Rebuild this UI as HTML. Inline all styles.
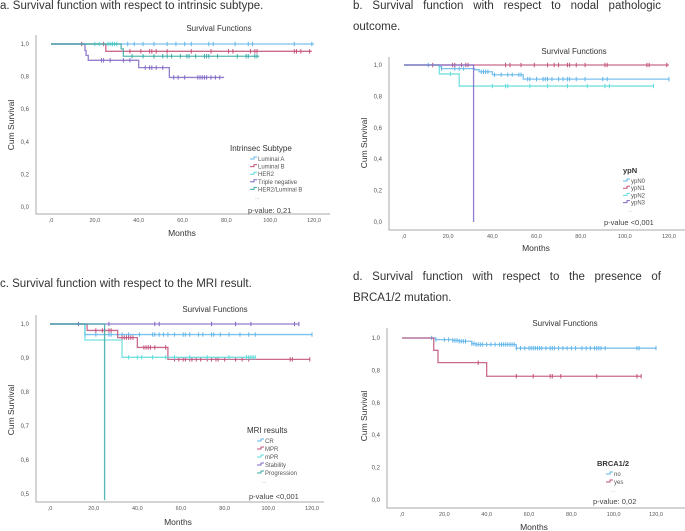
<!DOCTYPE html>
<html><head><meta charset="utf-8">
<style>
body{margin:0;width:685px;height:531px;background:#fff;overflow:hidden;position:relative;font-family:"Liberation Sans",sans-serif;}
.cap{position:absolute;font-size:11.5px;color:#333;line-height:21px;}
.just{text-align:justify;text-align-last:left;}
svg{position:absolute;left:0;top:0;}
text{font-family:"Liberation Sans",sans-serif;}
</style></head><body>
<div class="cap" style="left:0;top:-4px;">a. Survival function with respect to intrinsic subtype.</div>
<div class="cap just" style="left:353px;top:-4px;width:308px;">b. Survival function with respect to nodal pathologic outcome.</div>
<div class="cap" style="left:0;top:274px;">c. Survival function with respect to the MRI result.</div>
<div class="cap just" style="left:353px;top:267px;width:308px;">d. Survival function with respect to the presence of BRCA1/2 mutation.</div>
<svg id="svg" width="685" height="531"></svg>
<script>
// ---- Panel a data ----
const aLumATimes=[0]; const aLumASurv=[1]; const aLumAEnd=120;
const aLumACens=[28,35,38,42,47,53,57,61,64,72,74,84,90,92,111,119];
const aLumBTimes=[0,25]; const aLumBSurv=[1,0.955]; const aLumBEnd=119;
const aLumBCens=[14,24,36,41,45,46,48,53,64,73,81,83,91,93,94,111,112,114,118];
const aHer2Times=[0]; const aHer2Surv=[1]; const aHer2End=30;
const aHer2Cens=[20,22,26,27,28,29,30];
const aTnTimes=[0,15.5,16,17,40,54]; const aTnSurv=[1,0.96,0.93,0.90,0.855,0.795]; const aTnEnd=79;
const aTnCens=[23,24,27,33,36,43,45,46,48,51,56,58,61,67,68,69,70,71,73,75,77];
const aHlTimes=[0,32,33]; const aHlSurv=[1,0.97,0.925]; const aHlEnd=95;
const aHlCens=[37,42,47,51,53,55,59,62,63,66,70,71,72,76,85,89,90,93,94];
// ---- Panel b data ----
const bN0Times=[0,16,17,32,34,40,54]; const bN0Surv=[1,0.99,0.977,0.97,0.957,0.938,0.91]; const bN0End=120;
const bN0Cens=[11,17,23,25,27,35,36,37,38,41,44,47,49,52,53,56,57,60,63,64,65,67,70,72,74,75,78,82,90,92,120];
const bN1Times=[0]; const bN1Surv=[1]; const bN1End=120;
const bN1Cens=[13,22,23,26,28,29,46,48,53,59,65,68,70,74,75,78,82,91,92,110,111,119];
const bN2Times=[0,16,25]; const bN2Surv=[1,0.943,0.866]; const bN2End=113;
const bN2Cens=[21,40,46,47,57,65,74,83,91,93,113];
const bN3Times=[0,31.5]; const bN3Surv=[1,0]; const bN3End=31.5;
const bN3Cens=[];
// ---- Panel c data ----
const cCrTimes=[0,16]; const cCrSurv=[1,0.969]; const cCrEnd=120;
const cCrCens=[16,21,27,28,33,36,41,47,48,50,52,54,57,61,62,64,68,70,74,75,78,82,87,91,94,120];
const cMprTimes=[0,17,31,40,54]; const cMprSurv=[1,0.981,0.96,0.931,0.896]; const cMprEnd=119;
const cMprCens=[21,24,25,27,28,33,34,35,36,37,38,43,44,45,46,48,53,57,59,61,62,64,65,67,69,72,74,76,77,80,85,88,91,110,111,119];
const cMinTimes=[0,16,33]; const cMinSurv=[1,0.953,0.902]; const cMinEnd=94;
const cMinCens=[36,40,42,47,53,57,64,72,82,90,91,92,93,94];
const cStabTimes=[0]; const cStabSurv=[1]; const cStabEnd=114;
const cStabCens=[13,27,48,50,74,85,92,112,114];
const cProgTimes=[0,25]; const cProgSurv=[1,0.482]; const cProgEnd=25;
const cProgCens=[];
// ---- Panel d data ----
const dNoTimes=[0,16,24,27,33,35,54]; const dNoSurv=[1,0.99,0.985,0.98,0.965,0.96,0.937]; const dNoEnd=120;
const dNoCens=[14,16,20,22,24,25,26,27,28,29,30,33,34,35,36,37,38,40,42,44,46,47,48,49,50,51,52,53,54,56,58,60,61,62,63,64,65,66,68,70,71,72,74,76,78,80,82,85,87,89,91,92,93,94,96,111,112,120];
const dYesTimes=[0,15,17,40]; const dYesSurv=[1,0.924,0.848,0.764]; const dYesEnd=113;
const dYesCens=[36,54,62,70,71,75,92,111,113];
// ---- tick labels ----
const xTicks=[0,20,40,60,80,100,120];
const xTickLabels=[",0","20,0","40,0","60,0","80,0","100,0","120,0"];
const yTicksFull=[0,0.2,0.4,0.6,0.8,1.0];
const yTickLabelsFull=["0,0","0,2","0,4","0,6","0,8","1,0"];
const yTicksC=[0.5,0.6,0.7,0.8,0.9,1.0];
const yTickLabelsC=["0,5","0,6","0,7","0,8","0,9","1,0"];

const C={lb:"#63b6ea",cr:"#c2507a",cy:"#5fdcdc",pu:"#8068c4",te:"#3aaaa6"};
const NS="http://www.w3.org/2000/svg";
const svg=document.getElementById('svg');
function mk(tag,attrs,parent){const e=document.createElementNS(NS,tag);for(const k in attrs)e.setAttribute(k,attrs[k]);(parent||svg).appendChild(e);return e;}
function survAt(times,surv,t){let s=surv[0];for(let i=0;i<times.length;i++){if(times[i]<=t)s=surv[i];}return s;}

function panel(P){
  const g=mk('g',{});
  
  
  const xs=v=>P.x0+(v-0)*(P.x120-P.x0)/120;
  const ys=v=>P.y1+(1-v)*(P.ylo-P.y1)/(1-P.ymin);
  const t=mk('text',{x:P.titleX,y:P.titleY,'font-size':8,fill:'#333','text-anchor':'middle'},g);t.textContent='Survival Functions';
  
  
  const ax=mk('path',{d:`M${P.ax} ${P.axTop}V${P.axB}H${P.axR}`,stroke:'#aaa','stroke-width':1,fill:'none'},g);
  
  
  P.yt.forEach((v,i)=>{const e=mk('text',{x:P.ax-7,y:ys(v)+2,'font-size':6,fill:'#555','text-anchor':'end'},g);e.textContent=P.ytl[i];
    
    });
  xTicks.forEach((v,i)=>{const e=mk('text',{x:xs(v),y:P.axB+8,'font-size':5.5,fill:'#555','text-anchor':'middle'},g);e.textContent=xTickLabels[i];
    
    });
  const xl=mk('text',{x:P.monX,y:P.monY,'font-size':8.5,fill:'#333','text-anchor':'middle'},g);xl.textContent='Months';
  
  
  const yl=mk('text',{x:0,y:0,'font-size':8.5,fill:'#333','text-anchor':'middle',transform:`translate(${P.cumX},${P.cumY}) rotate(-90)`},g);yl.textContent='Cum Survival';
  
  
  P.series.forEach(s=>{
    let d=`M${xs(0)} ${ys(s.surv[0])}`;
    for(let i=1;i<s.times.length;i++){d+=`H${xs(s.times[i])}V${ys(s.surv[i])}`;}
    d+=`H${xs(s.end)}`;
    const p=mk('path',{d:d,stroke:s.col,'stroke-width':1.3,fill:'none','stroke-opacity':0.85},g);
    
    
    s.cens.forEach(c=>{const y=ys(survAt(s.times,s.surv,c));
      const m=mk('line',{x1:xs(c),x2:xs(c),y1:y-2.2,y2:y+2.2,stroke:s.col,'stroke-width':1},g);
      
      });
  });
  const lt=mk('text',{x:P.legX,y:P.legY,'font-size':P.legFs,fill:'#333','font-weight':P.legBold?'bold':'normal'},g);lt.textContent=P.legTitle;
  
  
  P.series.forEach((s,i)=>{const y=P.legY0+i*P.legDy;const lx=P.legX+P.legIx;
    const ic=mk('path',{d:`M${lx} ${y}H${lx+4}V${y-2}H${lx+7}`,stroke:s.col,'stroke-width':1,fill:'none'},g);
    
    
    const e=mk('text',{x:lx+8,y:y+2,'font-size':6,fill:'#555'},g);e.textContent=s.label;
    
    });
  const dots=mk('text',{x:P.legX+P.legIx+5,y:P.legY0+P.series.length*P.legDy+2,'font-size':5,fill:'#999'},g);dots.textContent='...';
  
  
  const pv=mk('text',{x:P.pX,y:P.pY,'font-size':7.5,fill:'#444'},g);pv.textContent=P.pText;
  
  
}

panel({id:'a',x0:51,x120:314,y1:44,ylo:207,ymin:0,ax:36,axTop:35,axB:214,axR:330,titleX:219,titleY:31,monX:182,monY:236,cumX:14,cumY:125,
  yt:yTicksFull,ytl:yTickLabelsFull,legTitle:'Intrinsec Subtype',legX:230,legY:151,legFs:8,legBold:false,legIx:20,legY0:159,legDy:7.6,
  pX:248,pY:213,pText:'p-value: 0,21',
  series:[{name:'luminal-a',label:'Luminal A',col:C.lb,times:aLumATimes,surv:aLumASurv,end:aLumAEnd,cens:aLumACens},
          {name:'luminal-b',label:'Luminal B',col:C.cr,times:aLumBTimes,surv:aLumBSurv,end:aLumBEnd,cens:aLumBCens},
          {name:'her2',label:'HER2',col:C.cy,times:aHer2Times,surv:aHer2Surv,end:aHer2End,cens:aHer2Cens},
          {name:'triple-negative',label:'Triple negative',col:C.pu,times:aTnTimes,surv:aTnSurv,end:aTnEnd,cens:aTnCens},
          {name:'her2-luminal-b',label:'HER2/Luminal B',col:C.te,times:aHlTimes,surv:aHlSurv,end:aHlEnd,cens:aHlCens}]});
panel({id:'b',x0:404,x120:669,y1:65,ylo:222,ymin:0,ax:389,axTop:57,axB:230,axR:685,titleX:574,titleY:54,monX:536,monY:251,cumX:367,cumY:143,
  yt:yTicksFull,ytl:yTickLabelsFull,legTitle:'ypN',legX:623,legY:173,legFs:7.5,legBold:true,legIx:0,legY0:181,legDy:7.2,
  pX:604,pY:225,pText:'p-value <0,001',
  series:[{name:'ypn0',label:'ypN0',col:C.lb,times:bN0Times,surv:bN0Surv,end:bN0End,cens:bN0Cens},
          {name:'ypn1',label:'ypN1',col:C.cr,times:bN1Times,surv:bN1Surv,end:bN1End,cens:bN1Cens},
          {name:'ypn2',label:'ypN2',col:C.cy,times:bN2Times,surv:bN2Surv,end:bN2End,cens:bN2Cens},
          {name:'ypn3',label:'ypN3',col:C.pu,times:bN3Times,surv:bN3Surv,end:bN3End,cens:bN3Cens}]});
panel({id:'c',x0:50,x120:312,y1:324,ylo:494,ymin:0.5,ax:36,axTop:315,axB:502,axR:324,titleX:215,titleY:312,monX:178,monY:525,cumX:14,cumY:410,
  yt:yTicksC,ytl:yTickLabelsC,legTitle:'MRI results',legX:247,legY:433,legFs:8,legBold:false,legIx:10,legY0:441,legDy:8,
  pX:249,pY:499,pText:'p-value <0,001',
  series:[{name:'cr',label:'CR',col:C.lb,times:cCrTimes,surv:cCrSurv,end:cCrEnd,cens:cCrCens},
          {name:'mpr-major',label:'MPR',col:C.cr,times:cMprTimes,surv:cMprSurv,end:cMprEnd,cens:cMprCens},
          {name:'mpr-minor',label:'mPR',col:C.cy,times:cMinTimes,surv:cMinSurv,end:cMinEnd,cens:cMinCens},
          {name:'stability',label:'Stability',col:C.pu,times:cStabTimes,surv:cStabSurv,end:cStabEnd,cens:cStabCens},
          {name:'progression',label:'Progression',col:C.te,times:cProgTimes,surv:cProgSurv,end:cProgEnd,cens:cProgCens}]});
panel({id:'d',x0:402,x120:656,y1:338,ylo:500,ymin:0,ax:387,axTop:328,axB:508,axR:685,titleX:565,titleY:326,monX:534,monY:530,cumX:367,cumY:416,
  yt:yTicksFull,ytl:yTickLabelsFull,legTitle:'BRCA1/2',legX:597,legY:466,legFs:7.5,legBold:true,legIx:9,legY0:474,legDy:8,
  pX:593,pY:504,pText:'p-value: 0,02',
  series:[{name:'brca-no',label:'no',col:C.lb,times:dNoTimes,surv:dNoSurv,end:dNoEnd,cens:dNoCens},
          {name:'brca-yes',label:'yes',col:C.cr,times:dYesTimes,surv:dYesSurv,end:dYesEnd,cens:dYesCens}]});
</script>
</body></html>
